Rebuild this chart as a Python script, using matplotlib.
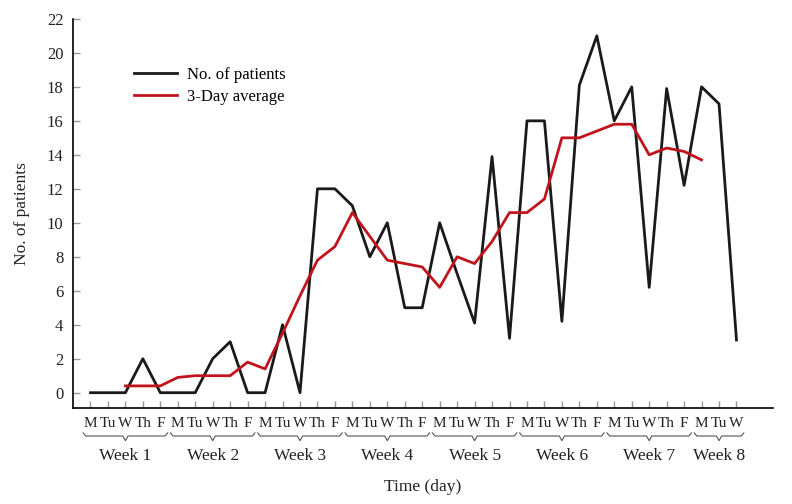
import numpy as np
import matplotlib
matplotlib.use("Agg")
import matplotlib.pyplot as plt
from matplotlib.transforms import blended_transform_factory

plt.rcParams['font.family'] = ['Liberation Serif', 'DejaVu Serif']

days = ["M", "Tu", "W", "Th", "F"]
weeks = ["Week 1", "Week 2", "Week 3", "Week 4", "Week 5", "Week 6", "Week 7", "Week 8"]
week_days = [5, 5, 5, 5, 5, 5, 5, 3]

patients = [0, 0, 0, 2, 0, 0, 0, 2, 3, 0,
            0, 4, 0, 12, 12, 11, 8, 10, 5, 5,
            10, 7, 4.1, 13.9, 3.2, 16, 16, 4.2, 18.1, 21,
            16, 18, 6.2, 17.9, 12.2, 18, 17, 3.1]
avg_start = 2
avg3 = [0.4, 0.4, 0.4, 0.9, 1.0, 1.0, 1.0, 1.8, 1.4, 3.5,
        5.7, 7.8, 8.6, 10.6, 9.2, 7.8, 7.6, 7.4, 6.2, 8.0,
        7.6, 8.9, 10.6, 10.6, 11.4, 15.0, 15.0, 15.4, 15.8, 15.8,
        14.0, 14.4, 14.2, 13.7]

fig = plt.figure(figsize=(7.92, 5.04), dpi=100)
ax = fig.add_axes([0.0922, 0.1905, 0.884, 0.772])

x = np.arange(len(patients))
xa = np.arange(avg_start, avg_start + len(avg3))
ax.plot(x, patients, color="#1a1a1a", lw=2.0, label="No. of patients")
ax.plot(xa, avg3, color="#c0141c", lw=2.0, label="3-Day average")

ax.set_xlim(-1, 39.1)
ax.set_ylim(-0.9, 22)
ax.set_yticks(range(0, 23, 2))
ax.set_xticks(x)
ax.set_xticklabels([])
for s in ["top", "right"]:
    ax.spines[s].set_visible(False)
ax.spines["left"].set_linewidth(1.2)
ax.spines["bottom"].set_linewidth(1.2)
ax.tick_params(axis="both", direction="in", length=5, color="#999999", width=1)
ax.tick_params(axis="y", labelsize=12, colors="#999999", labelcolor="#222222", pad=7)

# day labels, braces and week labels
tr = blended_transform_factory(ax.transData, ax.transAxes)
i = 0
for wk, n in zip(weeks, week_days):
    for d in range(n):
        ax.text(i + d, -0.041, days[d], transform=tr, ha="center", va="center",
                fontsize=11, color="#222222")
    x0, x1 = i - 0.42, i + n - 1 + 0.42
    xm = (x0 + x1) / 2
    yb, yt = -0.072, -0.064
    bx = [x0, x0 + 0.15, xm - 0.15, xm, xm + 0.15, x1 - 0.15, x1]
    by = [yt, yb, yb, yb - 0.012, yb, yb, yt]
    ax.plot(bx, by, transform=tr, color="#555555", lw=0.8, clip_on=False)
    ax.text(xm, -0.123, wk, transform=tr, ha="center", va="center",
            fontsize=12.5, color="#222222")
    i += n

ax.text(0.5, -0.203, "Time (day)", transform=ax.transAxes, ha="center", va="center",
        fontsize=12.5, color="#222222")
ax.set_ylabel("No. of patients", fontsize=12.5, color="#222222", labelpad=12)

ax.legend(loc="upper left", bbox_to_anchor=(0.065, 0.915), frameon=False, fontsize=12,
          handlelength=2.6, handletextpad=0.6, labelspacing=0.35)

plt.savefig("out.png", dpi=100)
